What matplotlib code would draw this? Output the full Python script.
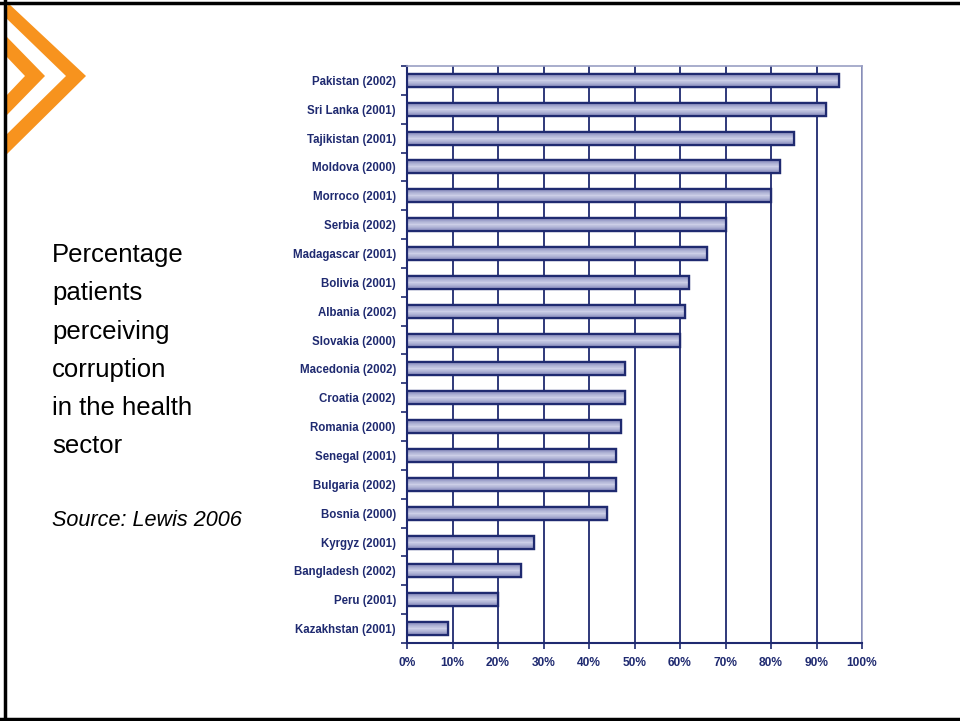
#!/usr/bin/env python3

import numpy as np
import matplotlib
matplotlib.use('Agg')
import matplotlib.pyplot as plt
from matplotlib.patches import Polygon, Rectangle
from matplotlib.lines import Line2D

countries = ['Pakistan (2002)', 'Sri Lanka (2001)', 'Tajikistan (2001)', 'Moldova (2000)',
             'Morroco (2001)', 'Serbia (2002)', 'Madagascar (2001)', 'Bolivia (2001)',
             'Albania (2002)', 'Slovakia (2000)', 'Macedonia (2002)', 'Croatia (2002)',
             'Romania (2000)', 'Senegal (2001)', 'Bulgaria (2002)', 'Bosnia (2000)',
             'Kyrgyz (2001)', 'Bangladesh (2002)', 'Peru (2001)', 'Kazakhstan (2001)']
percent = [95, 92, 85, 82, 80, 70, 66, 62, 61, 60, 48, 48, 47, 46, 46, 44, 28, 25, 20, 9]
xticks = [0, 10, 20, 30, 40, 50, 60, 70, 80, 90, 100]

navy = '#1f2a70'

plt.rcParams['font.family'] = ['Liberation Sans', 'DejaVu Sans']

W, H = 960.0, 721.0
fig = plt.figure(figsize=(9.6, 7.21), dpi=100)

def to_fig(pts):
    return [(px / W, 1 - py / H) for px, py in pts]

# slide frame (top, left, bottom; no right edge)
for pts in ([(0, 3), (960, 3)], [(5, 0), (5, 721)], [(0, 719), (960, 719)]):
    (x0, y0), (x1, y1) = to_fig(pts)
    fig.lines.append(Line2D([x0, x1], [y0, y1], transform=fig.transFigure,
                            color='black', linewidth=2.5))

# orange chevrons in the corner
outer = [(8, 3), (86, 76), (5, 156), (5, 136), (66, 76), (5, 17)]
inner = [(5, 35), (45, 76), (5, 117), (5, 97), (25, 76), (5, 55)]
for pts in (outer, inner):
    fig.patches.append(Polygon(to_fig(pts), closed=True, transform=fig.transFigure,
                               facecolor='#f7931e', edgecolor='none'))

fig.text(52 / W, 1 - 243 / H,
         'Percentage\npatients\nperceiving\ncorruption\nin the health\nsector',
         fontsize=18.5, va='top', ha='left', linespacing=1.75, color='black')
fig.text(52 / W, 1 - 520 / H, 'Source: Lewis 2006', fontsize=15.6, style='italic',
         va='center', ha='left')

ax = fig.add_axes([407 / W, 1 - 643 / H, (862 - 407) / W, (643 - 66) / H])
y = np.arange(len(countries))
bars = ax.barh(y, percent, height=0.45, color='#a8abd2', edgecolor=navy, linewidth=1.6, zorder=3)

# light gradient look on the bars
cmap = matplotlib.colors.LinearSegmentedColormap.from_list('g', ['#cdd0e8', '#8d91c0'])
shade = np.abs(np.linspace(-1, 1, 9)).reshape(-1, 1)
for b in bars:
    x0, y0 = b.get_x(), b.get_y()
    w, h = b.get_width(), b.get_height()
    im = ax.imshow(shade, cmap=cmap, extent=(x0, x0 + w, y0, y0 + h), aspect='auto', zorder=3.5)
    im.set_clip_path(b)
    ax.add_patch(Rectangle((x0, y0), w, h, fill=False, edgecolor=navy, linewidth=1.6, zorder=4))

ax.set_xlim(0, 100)
ax.set_ylim(len(countries) - 0.5, -0.5)
ax.set_xticks(xticks)
ax.set_xticklabels(['{0}%'.format(t) for t in xticks])
ax.set_yticks(y)
ax.set_yticklabels(countries)
ax.set_yticks(np.arange(-0.5, len(countries)), minor=True)
ax.tick_params(axis='y', which='major', length=0, pad=8)
ax.tick_params(axis='y', which='minor', length=4, color=navy, width=1.2)
ax.tick_params(axis='x', length=4, color=navy, width=1.2, pad=6)
for lab in ax.get_yticklabels():
    lab.set_fontsize(8.3)
    lab.set_fontweight('bold')
    lab.set_color(navy)
for lab in ax.get_xticklabels():
    lab.set_fontsize(8.6)
    lab.set_fontweight('bold')
    lab.set_color(navy)

ax.grid(axis='x', color=navy, linewidth=1.3, zorder=1)
for side in ('left', 'bottom'):
    ax.spines[side].set_color(navy)
    ax.spines[side].set_linewidth(1.5)
for side in ('top', 'right'):
    ax.spines[side].set_color('#9a9fc4')
    ax.spines[side].set_linewidth(1.2)

plt.savefig('out.png', dpi=100)
